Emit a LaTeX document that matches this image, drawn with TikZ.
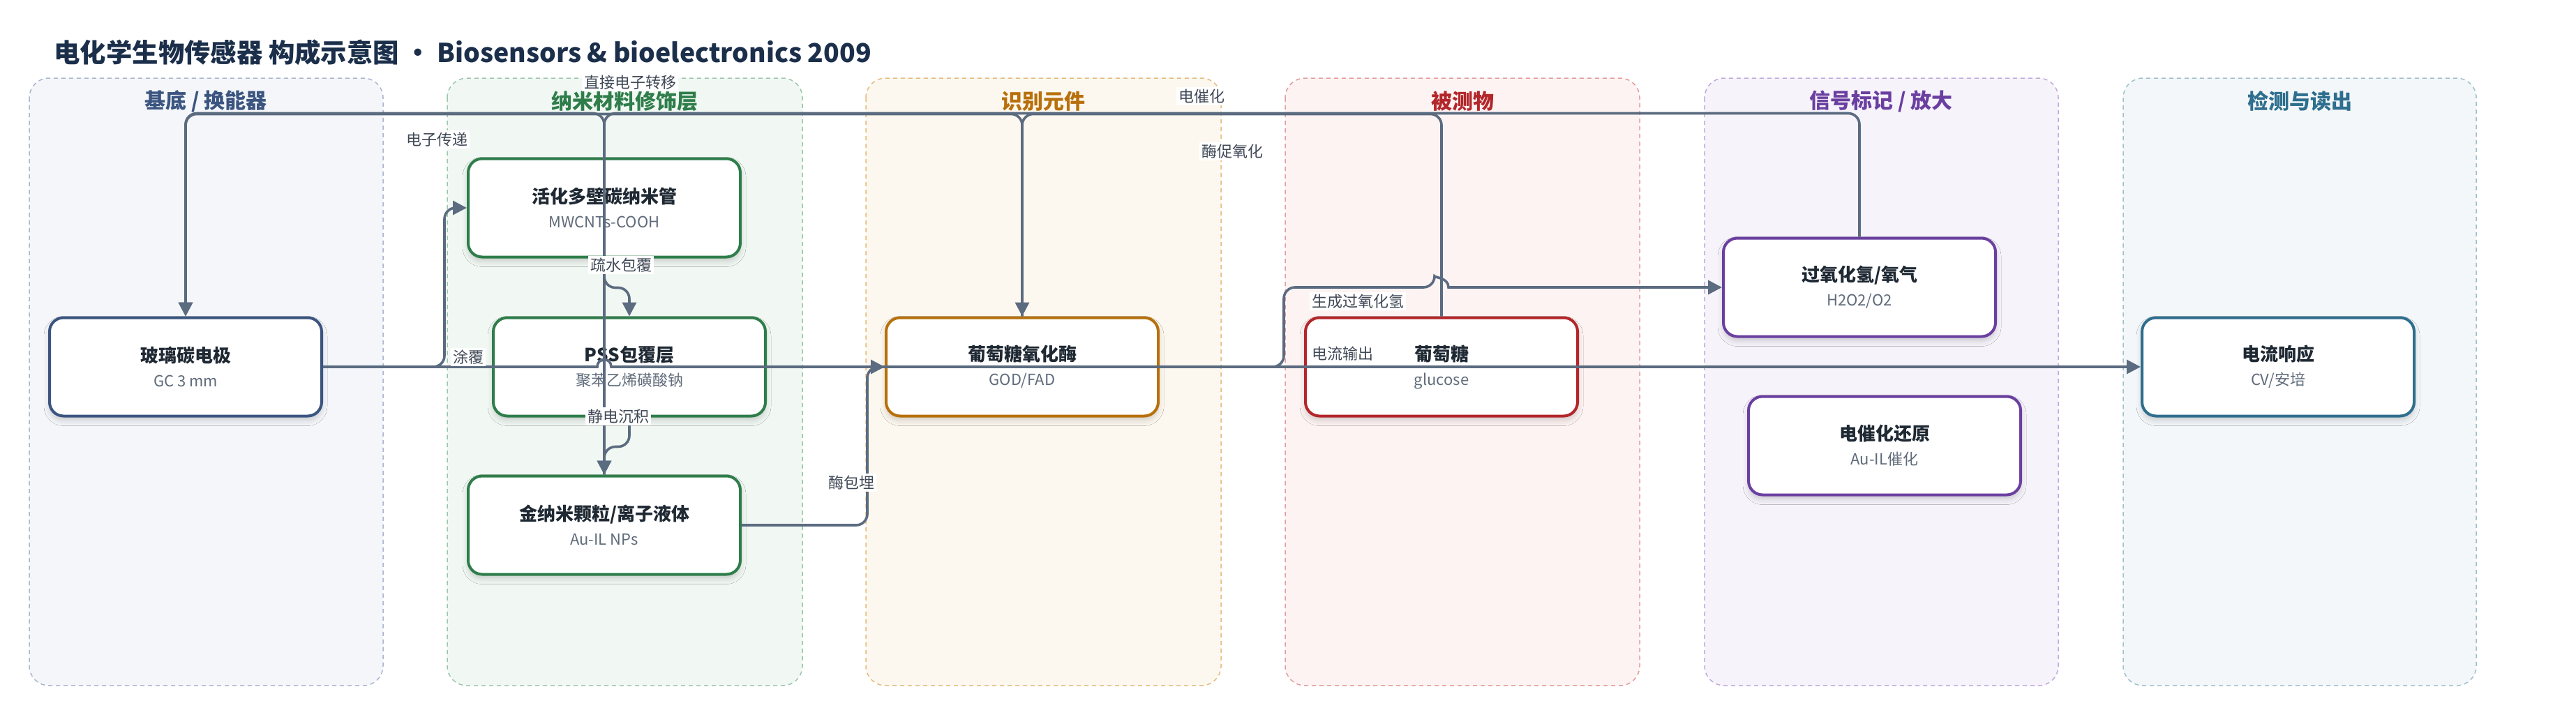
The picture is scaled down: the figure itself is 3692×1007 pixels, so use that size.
\documentclass[tikz,border=0pt]{standalone}
\usepackage{fontspec}
\setmainfont{Noto Sans CJK SC}
\usetikzlibrary{arrows.meta,shadows.blur}

\definecolor{ink}{HTML}{1B2F4B}
\definecolor{wirec}{HTML}{5B6B80}
\definecolor{lbltxt}{HTML}{3F4856}
\definecolor{subtxt}{HTML}{5F6B7A}
\definecolor{boxtxt}{HTML}{1F2933}
\definecolor{baseC}{HTML}{3B5580}\definecolor{baseF}{HTML}{F4F6FA}\definecolor{baseD}{HTML}{A9B6CC}
\definecolor{nanoC}{HTML}{2E7D4A}\definecolor{nanoF}{HTML}{F1F8F3}\definecolor{nanoD}{HTML}{9DC7AB}
\definecolor{recoC}{HTML}{B7700B}\definecolor{recoF}{HTML}{FDF8EF}\definecolor{recoD}{HTML}{E2BC7E}
\definecolor{anaC}{HTML}{B3262A}\definecolor{anaF}{HTML}{FDF3F3}\definecolor{anaD}{HTML}{E39C9C}
\definecolor{sigC}{HTML}{6A3FA0}\definecolor{sigF}{HTML}{F6F3FB}\definecolor{sigD}{HTML}{C2A9DD}
\definecolor{detC}{HTML}{2E6E8E}\definecolor{detF}{HTML}{F3F7F9}\definecolor{detD}{HTML}{9FC0CD}

\begin{document}
\begin{tikzpicture}
  [x=0.5pt,y=-0.5pt,
   panel/.style={rounded corners=14pt,dash pattern=on 3pt off 2.5pt,line width=0.75pt},
   ptitle/.style={font=\bfseries\fontsize{15}{18}\selectfont},
   box/.style={draw=#1,line width=2pt,rounded corners=10pt,fill=white,
     minimum width=195pt,minimum height=70.5pt,align=center,text=boxtxt,
     font=\fontsize{11}{17.5}\selectfont,
     blur shadow={shadow xshift=0pt,shadow yshift=-3pt,shadow blur radius=4pt,shadow opacity=18}},
   wire/.style={draw=wirec,line width=1.8pt,rounded corners=8pt},
   arr/.style={wire,-{Triangle[length=10pt,width=10pt]}},
   elabel/.style={fill=white,inner sep=1.5pt,text=lbltxt,font=\fontsize{11}{13}\selectfont}]
  \useasboundingbox (0,0) rectangle (3692,1007);

  \node[anchor=west,inner sep=0pt,text=ink,font=\bfseries\fontsize{18.7}{22}\selectfont] (title) at (77,75)
    {电化学生物传感器 构成示意图 • Biosensors \& bioelectronics 2009};

  % lanes
  \draw[panel,draw=baseD,fill=baseF] (42,112) rectangle (549,983);
  \draw[panel,draw=nanoD,fill=nanoF] (641,112) rectangle (1150,983);
  \draw[panel,draw=recoD,fill=recoF] (1241,112) rectangle (1750,983);
  \draw[panel,draw=anaD,fill=anaF] (1842,112) rectangle (2350,983);
  \draw[panel,draw=sigD,fill=sigF] (2443,112) rectangle (2950,983);
  \draw[panel,draw=detD,fill=detF] (3043,112) rectangle (3549,983);
  \node[ptitle,text=baseC] (t1) at (295,145) {基底 / 换能器};
  \node[ptitle,text=nanoC] (t2) at (895,145) {纳米材料修饰层};
  \node[ptitle,text=recoC] (t3) at (1495,145) {识别元件};
  \node[ptitle,text=anaC] (t4) at (2096,145) {被测物};
  \node[ptitle,text=sigC] (t5) at (2696,145) {信号标记 / 放大};
  \node[ptitle,text=detC] (t6) at (3296,145) {检测与读出};

  % components
  \node[box=baseC] (gc) at (266,526) {{\bfseries\fontsize{13}{17.5}\selectfont 玻璃碳电极}\\{\color{subtxt}GC 3 mm}};
  \node[box=nanoC] (mwcnt) at (866,298) {{\bfseries\fontsize{13}{17.5}\selectfont 活化多壁碳纳米管}\\{\color{subtxt}MWCNTs-COOH}};
  \node[box=nanoC] (pss) at (902,526) {{\bfseries\fontsize{13}{17.5}\selectfont PSS包覆层}\\{\color{subtxt}聚苯乙烯磺酸钠}};
  \node[box=nanoC] (auil) at (866,753) {{\bfseries\fontsize{13}{17.5}\selectfont 金纳米颗粒/离子液体}\\{\color{subtxt}Au-IL NPs}};
  \node[box=recoC] (god) at (1465,526) {{\bfseries\fontsize{13}{17.5}\selectfont 葡萄糖氧化酶}\\{\color{subtxt}GOD/FAD}};
  \node[box=anaC] (glu) at (2066,526) {{\bfseries\fontsize{13}{17.5}\selectfont 葡萄糖}\\{\color{subtxt}glucose}};
  \node[box=sigC] (hoo) at (2665,412) {{\bfseries\fontsize{13}{17.5}\selectfont 过氧化氢/氧气}\\{\color{subtxt}H2O2/O2}};
  \node[box=sigC] (eccat) at (2701,639) {{\bfseries\fontsize{13}{17.5}\selectfont 电催化还原}\\{\color{subtxt}Au-IL催化}};
  \node[box=detC] (resp) at (3265,526) {{\bfseries\fontsize{13}{17.5}\selectfont 电流响应}\\{\color{subtxt}CV/安培}};

  % connectors
  \coordinate (hopA) at (866,526);
  \coordinate (hopB) at (2066,412);
  \draw[arr] (gc.east) -- ++(174,0) |- (mwcnt.west);
  \draw[arr] (mwcnt.south) -- ++(0,42) -| (pss.north);
  \draw[arr] (pss.south) -- ++(0,42) -| (auil.north);
  \draw[arr] (auil.east) -- ++(180,0) |- (god.west);
  \draw[arr,sharp corners] (gc.east) -- ([xshift=-5pt]hopA)
    .. controls ([xshift=-5pt,yshift=7pt]hopA) and ([xshift=5pt,yshift=7pt]hopA) .. ([xshift=5pt]hopA) -- (resp.west);
  \draw[arr] (god.east) -- ++(178,0) |- ([xshift=-5pt]hopB) [sharp corners]
    .. controls ([xshift=-5pt,yshift=7pt]hopB) and ([xshift=5pt,yshift=7pt]hopB) .. ([xshift=5pt]hopB) -- (hoo.west);
  \draw[arr] (glu.north) -- ++(0,-290) -| (god.north);
  \draw[arr] (god.north) -- ++(0,-290) -| (gc.north);
  \draw[arr] (auil.north) -- ++(0,-518) -| (gc.north);
  \draw[arr] (hoo.north) -- ++(0,-177) -| (auil.north);

  \node[elabel] (l1) at (671,512) {涂覆};
  \node[elabel] (l2) at (890,380) {疏水包覆};
  \node[elabel] (l3) at (886,597) {静电沉积};
  \node[elabel] (l4) at (1220,692) {酶包埋};
  \node[elabel] (l5) at (903,118) {直接电子转移};
  \node[elabel] (l6) at (626,200) {电子传递};
  \node[elabel] (l7) at (1722,138) {电催化};
  \node[elabel] (l8) at (1766,217) {酶促氧化};
  \node[elabel] (l9) at (1946,432) {生成过氧化氢};
  \node[elabel] (l10) at (1924,507) {电流输出};
\end{tikzpicture}
\end{document}
